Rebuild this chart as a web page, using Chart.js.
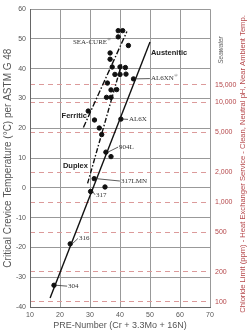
<!DOCTYPE html>
<html lang="en">
<head>
<meta charset="UTF-8">
<title>Critical Crevice Temperature vs PRE-Number</title>
<script src="https://cdn.jsdelivr.net/npm/chart.js"></script>
<style>
  html, body { margin: 0; padding: 0; background: #fff; }
</style>
</head>
<body>
<canvas id="cct" width="250" height="333"></canvas>
<script>
// measured alloys: PRE-Number and critical crevice temperature (°C)
const preNumber = [39.4, 40.9, 39.4, 42.8, 36.7, 36.7, 37.4, 40.0, 41.8, 38.3, 40.0, 42.0, 35.8, 37.0, 38.9,
                   35.5, 37.0, 44.5, 29.4, 31.5, 33.1, 33.9, 35.3, 37.0, 40.3, 31.4, 35.0, 30.2, 23.4, 18.0];
const cctValues = [52.8, 52.8, 50.7, 47.8, 45.3, 43.2, 40.6, 40.6, 40.4, 38.1, 38.1, 38.2, 35.2, 32.9, 33.0,
                   30.4, 30.4, 36.6, 25.8, 22.8, 20.1, 17.9, 12.0, 10.5, 23.1, 3.1, 0.3, -1.2, -18.8, -32.7];

// trend lines for each family
const austeniticX = [16.7, 50];
const austeniticY = [-37, 49];
const ferriticX = [27.8, 42.3];
const ferriticY = [20.3, 52.5];
const duplexX = [29.2, 40.5];
const duplexY = [1.5, 41.5];

// right axis: chloride limit (ppm)
const chlorideTicks = [100, 200, 500, 1000, 2000, 5000, 10000, 15000];

// named alloys (a trailing ® is drawn raised)
const alloyNames = ["SEA-CURE®", "AL6XN®", "AL6X", "904L", "317LMN", "317", "316", "304"];
const alloyPointX = [36.7, 44.5, 40.3, 35.3, 31.4, 30.2, 23.4, 18.0];
const alloyPointY = [45.3, 36.6, 23.1, 12.0, 3.1, -1.2, -18.8, -32.7];
const alloyLabelX = [24.3, 50.3, 43.0, 39.7, 40.3, 32.0, 26.3, 22.7];
const alloyLabelY = [49.0, 36.7, 23.0, 13.7, 2.3, -2.3, -17.0, -33.0];

const familyNames = ["Ferritic", "Duplex", "Austenitic"];
const familyLabelX = [29.0, 29.3, 50.3];
const familyLabelY = [24.3, 7.3, 45.3];

const toPoints = (xs, ys) => xs.map((v, i) => ({ x: v, y: ys[i] }));

Chart.defaults.font.family = '"Liberation Sans", Arial, sans-serif';
Chart.defaults.color = '#555';

const serif = '"Liberation Serif", "Times New Roman", serif';

const annotate = {
  id: 'annotate',
  afterDraw(chart) {
    const { ctx, chartArea, scales: { x, y } } = chart;
    ctx.save();
    ctx.textBaseline = 'middle';

    // alloy names with leader lines
    ctx.fillStyle = '#333';
    ctx.strokeStyle = '#333';
    ctx.lineWidth = 0.8;
    alloyNames.forEach((name, i) => {
      const lx = x.getPixelForValue(alloyLabelX[i]);
      const ly = y.getPixelForValue(alloyLabelY[i]);
      if (i > 0) {
        const px = x.getPixelForValue(alloyPointX[i]);
        const py = y.getPixelForValue(alloyPointY[i]);
        ctx.beginPath();
        ctx.moveTo(px + 2, py);
        ctx.lineTo(lx - 1, ly);
        ctx.stroke();
      }
      ctx.textAlign = 'left';
      ctx.font = '7px ' + serif;
      const reg = name.endsWith('®');
      const base = reg ? name.slice(0, -1) : name;
      ctx.fillText(base, lx, ly);
      if (reg) {
        const w = ctx.measureText(base).width;
        ctx.font = '4.5px ' + serif;
        ctx.fillText('®', lx + w + 0.3, ly - 2.5);
      }
    });

    // family names
    ctx.font = 'bold 7.5px "Liberation Sans", Arial, sans-serif';
    ctx.fillStyle = '#222';
    familyNames.forEach((name, i) => {
      ctx.textAlign = i < 2 ? 'right' : 'left';
      ctx.fillText(name, x.getPixelForValue(familyLabelX[i]), y.getPixelForValue(familyLabelY[i]));
    });

    // "Seawater" beside the right axis
    ctx.save();
    ctx.translate(chartArea.right + 11, y.getPixelForValue(46.3));
    ctx.rotate(-Math.PI / 2);
    ctx.textAlign = 'center';
    ctx.font = 'italic 6.5px "Liberation Sans", Arial, sans-serif';
    ctx.fillStyle = '#666';
    ctx.fillText('Seawater', 0, 0);
    ctx.restore();

    // right axis title, reading bottom to top
    ctx.save();
    ctx.translate(243, 164);
    ctx.rotate(-Math.PI / 2);
    ctx.textAlign = 'center';
    ctx.font = '7.6px "Liberation Sans", Arial, sans-serif';
    ctx.fillStyle = '#b5474a';
    ctx.fillText('Chloride Limit (ppm) - Heat Exchanger Service - Clean, Neutral pH, Near Ambient Temp.', 0, 0);
    ctx.restore();

    ctx.restore();
  }
};

new Chart(document.getElementById('cct'), {
  data: {
    datasets: [
      {
        type: 'scatter',
        data: toPoints(preNumber, cctValues),
        backgroundColor: '#111',
        borderColor: '#111',
        pointRadius: 2.2
      },
      {
        type: 'line',
        data: toPoints(austeniticX, austeniticY),
        borderColor: '#111',
        borderWidth: 1.4,
        pointRadius: 0
      },
      {
        type: 'line',
        data: toPoints(ferriticX, ferriticY),
        borderColor: '#111',
        borderWidth: 1.4,
        borderDash: [6, 2, 1.5, 2],
        pointRadius: 0
      },
      {
        type: 'line',
        data: toPoints(duplexX, duplexY),
        borderColor: '#111',
        borderWidth: 1.4,
        borderDash: [5, 2, 1.5, 2],
        pointRadius: 0
      }
    ]
  },
  options: {
    responsive: false,
    animation: false,
    devicePixelRatio: 1,
    layout: { padding: { top: 3 } },
    plugins: { legend: { display: false }, tooltip: { enabled: false } },
    scales: {
      x: {
        type: 'linear',
        min: 10, max: 70,
        afterFit: s => { s.height = 26; },
        ticks: { stepSize: 10, padding: 4, font: { size: 7 } },
        grid: { color: '#999', drawTicks: false },
        border: { color: '#666' },
        title: { display: true, text: 'PRE-Number (Cr + 3.3Mo + 16N)', font: { size: 9 }, padding: { bottom: 2, top: 0 } }
      },
      y: {
        type: 'linear',
        position: 'left',
        min: -40, max: 60,
        afterFit: s => { s.width = 30; },
        ticks: { stepSize: 10, padding: 4, font: { size: 7 } },
        grid: { color: '#999', drawTicks: false },
        border: { color: '#666' },
        title: { display: true, text: 'Critical Crevice Temperature (°C) per ASTM G 48', font: { size: 10 }, padding: { top: 2, bottom: 0 } }
      },
      y2: {
        type: 'logarithmic',
        position: 'right',
        min: 89, max: 86000,
        afterFit: s => { s.width = 40; },
        afterBuildTicks: axis => { axis.ticks = chlorideTicks.map(v => ({ value: v })); },
        ticks: {
          padding: 5,
          color: '#b5474a',
          font: { size: 7 },
          callback: v => v.toLocaleString('en-US')
        },
        grid: { color: '#dc9a9a', drawTicks: false },
        border: { display: false, dash: [5, 4] }
      }
    }
  },
  plugins: [annotate]
});
</script>
</body>
</html>
